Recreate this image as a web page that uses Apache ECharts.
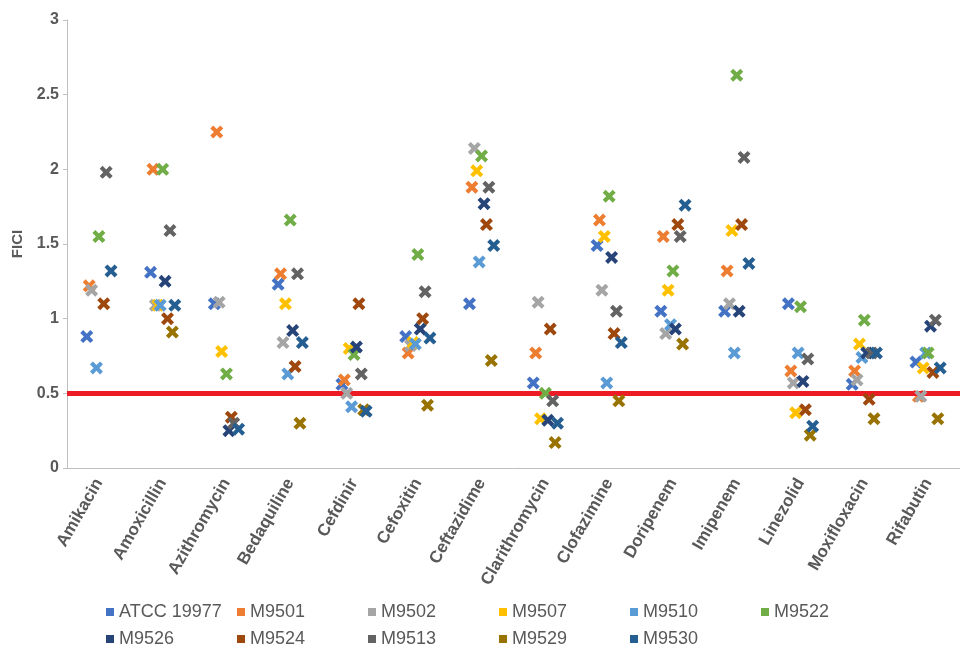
<!DOCTYPE html>
<html>
<head>
<meta charset="utf-8">
<script src="https://cdn.jsdelivr.net/npm/echarts@6/dist/echarts.min.js"></script>
<style>
  html, body { margin: 0; padding: 0; background: #ffffff; }
  #chart { width: 960px; height: 645px; }
</style>
</head>
<body>
<div id="chart"></div>
<script>
// Drugs tested (x categories)
const categories = ['Amikacin', 'Amoxicillin', 'Azithromycin', 'Bedaquiline', 'Cefdinir', 'Cefoxitin',
  'Ceftazidime', 'Clarithromycin', 'Clofazimine', 'Doripenem', 'Imipenem', 'Linezolid',
  'Moxifloxacin', 'Rifabutin'];

// Strain names, in legend order
const strains = ['ATCC 19977', 'M9501', 'M9502', 'M9507', 'M9510', 'M9522',
  'M9526', 'M9524', 'M9513', 'M9529', 'M9530'];

// FICI values per strain, one per drug (null = not shown)
const atcc19977 = [0.88, 1.31, 1.10, 1.23, 0.56, 0.88, 1.10, 0.57, 1.49, 1.05, 1.05, 1.10, 0.56, 0.71];
const m9501 = [1.22, 2.00, 2.25, 1.30, 0.59, 0.77, 1.88, 0.77, 1.66, 1.55, 1.32, 0.65, 0.65, 0.48];
const m9502 = [1.19, 1.09, 1.11, 0.84, 0.50, 0.82, 2.14, 1.11, 1.19, 0.90, 1.10, 0.57, 0.59, 0.48];
const m9507 = [null, 1.09, 0.78, 1.10, 0.80, 0.84, 1.99, 0.33, 1.55, 1.19, 1.59, 0.37, 0.83, 0.67];
const m9510 = [0.67, 1.09, null, 0.63, 0.41, 0.83, 1.38, null, 0.57, 0.96, 0.77, 0.77, 0.74, 0.77];
const m9522 = [1.55, 2.00, 0.63, 1.66, 0.76, 1.43, 2.09, 0.50, 1.82, 1.32, 2.63, 1.08, 0.99, 0.77];
const m9526 = [null, 1.25, 0.25, 0.92, 0.81, 0.93, 1.77, 0.32, 1.41, 0.93, 1.05, 0.58, 0.77, 0.95];
const m9524 = [1.10, 1.00, 0.34, 0.68, 1.10, 1.00, 1.63, 0.93, 0.90, 1.63, 1.63, 0.39, 0.46, 0.64];
const m9513 = [1.98, 1.59, 0.30, 1.30, 0.63, 1.18, 1.88, 0.45, 1.05, 1.55, 2.08, 0.73, 0.77, 0.99];
const m9529 = [null, 0.91, null, 0.30, 0.39, 0.42, 0.72, 0.17, 0.45, 0.83, null, 0.22, 0.33, 0.33];
const m9530 = [1.32, 1.09, 0.26, 0.84, 0.38, 0.87, 1.49, 0.30, 0.84, 1.76, 1.37, 0.28, 0.77, 0.67];

// Synergy threshold
const threshold = 0.5;

// Y axis ticks
const yTicks = [0, 0.5, 1, 1.5, 2, 2.5, 3];

const strainValues = [atcc19977, m9501, m9502, m9507, m9510, m9522, m9526, m9524, m9513, m9529, m9530];
const colors = ['#4472C4', '#ED7D31', '#A5A5A5', '#FFC000', '#5B9BD5', '#70AD47',
  '#264478', '#9E480E', '#636363', '#997300', '#255E91'];

// Bold "x" marker
const crossPath = 'path://M2.7,0 L6,3.3 L9.3,0 L12,2.7 L8.7,6 L12,9.3 L9.3,12 L6,8.7 L2.7,12 L0,9.3 L3.3,6 L0,2.7 Z';

const FONT = '"Liberation Sans", Arial, sans-serif';
const TXT = '#595959';
const AXIS = '#BFBFBF';

// Each strain is nudged sideways a little within its drug column
const step = 0.038;
const series = strains.map((name, s) => ({
  name,
  type: 'scatter',
  xAxisIndex: 1,
  symbol: crossPath,
  symbolSize: 13,
  itemStyle: { color: colors[s], opacity: 1 },
  data: strainValues[s]
    .map((v, i) => v == null ? null : [i + 1 + (s - 5) * step, v])
    .filter(d => d !== null),
  z: 3 + s,
  emphasis: { disabled: true }
}));

// Red threshold line
series.push({
  name: 'threshold',
  type: 'line',
  xAxisIndex: 1,
  data: [],
  silent: true,
  markLine: {
    silent: true,
    symbol: ['none', 'none'],
    label: { show: false },
    lineStyle: { color: '#ED1C24', width: 5, type: 'solid' },
    data: [{ yAxis: threshold }]
  },
  z: 2
});

const legendCommon = {
  left: 101,
  orient: 'horizontal',
  icon: 'rect',
  itemWidth: 8,
  itemHeight: 8,
  itemGap: 12,
  selectedMode: false,
  textStyle: { fontFamily: FONT, fontSize: 18, color: TXT, width: 106, lineHeight: 20 }
};

const option = {
  animation: false,
  backgroundColor: '#ffffff',
  color: colors,
  grid: { left: 67, top: 20, width: 899, height: 448 },
  legend: [
    Object.assign({}, legendCommon, { top: 597, data: strains.slice(0, 6) }),
    Object.assign({}, legendCommon, { top: 624, data: strains.slice(6) })
  ],
  xAxis: [
    {
      type: 'category',
      data: categories,
      boundaryGap: true,
      axisLine: { lineStyle: { color: AXIS, width: 1 } },
      axisTick: { show: false },
      axisLabel: {
        interval: 0,
        rotate: 60,
        margin: 12,
        fontFamily: FONT,
        fontSize: 17,
        fontWeight: 'bold',
        color: TXT
      },
      splitLine: { show: false }
    },
    {
      type: 'value',
      min: 0.5,
      max: categories.length + 0.5,
      show: false,
      splitLine: { show: false }
    }
  ],
  yAxis: {
    type: 'value',
    min: yTicks[0],
    max: yTicks[yTicks.length - 1],
    interval: yTicks[1] - yTicks[0],
    name: 'FICI',
    nameLocation: 'middle',
    nameGap: 40,
    nameRotate: 90,
    nameTextStyle: { fontFamily: FONT, fontSize: 15, fontWeight: 'bold', color: TXT },
    axisLine: { show: true, lineStyle: { color: AXIS, width: 1 } },
    axisTick: { show: true, length: 4, lineStyle: { color: AXIS } },
    axisLabel: {
      margin: 8,
      fontFamily: FONT,
      fontSize: 16,
      fontWeight: 'bold',
      color: TXT,
      formatter: v => String(v)
    },
    splitLine: { show: false }
  },
  series
};

const chart = echarts.init(document.getElementById('chart'), null, { renderer: 'canvas' });
chart.setOption(option);
</script>
</body>
</html>
